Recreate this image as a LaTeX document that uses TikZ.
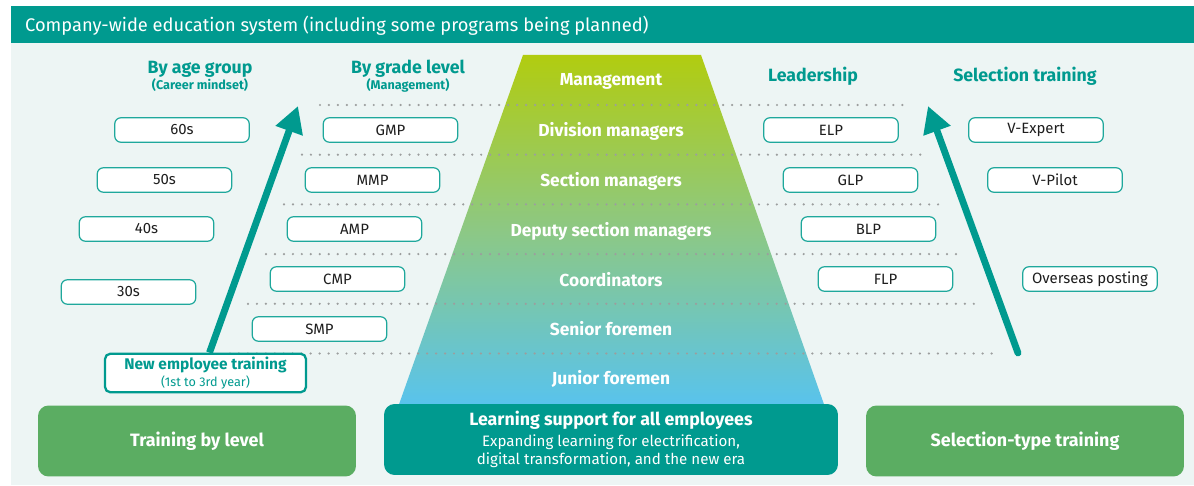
\documentclass[tikz,border=0pt]{standalone}
\usepackage{fontspec}
\setmainfont{Fira Sans}
\usetikzlibrary{arrows.meta}
\definecolor{teal1}{HTML}{009A8F}
\definecolor{tealline}{HTML}{1FA89C}
\definecolor{lightbg}{HTML}{EDF5F4}
\definecolor{greenbox}{HTML}{5BAD62}
\definecolor{dotgray}{HTML}{9C9E9E}
\definecolor{pyrtop}{HTML}{B1CC10}
\definecolor{pyrmid}{HTML}{8CC886}
\definecolor{pyrbot}{HTML}{57C3F0}
\definecolor{boxtext}{HTML}{1E1E1E}
\tikzset{
	prog/.style={draw=tealline, line width=0.7pt, fill=white, rounded corners=3.5pt,
		minimum width=2.69cm, minimum height=0.49cm, inner sep=0pt,
		text=boxtext, font=\fontsize{8.5}{10}\selectfont},
	level/.style={text=white, font=\fontsize{9.9}{11}\selectfont\bfseries},
	head/.style={text=teal1, font=\fontsize{10.1}{11}\selectfont\bfseries, align=center},
	base/.style={rounded corners=6pt, minimum width=6.36cm, minimum height=1.42cm,
		text=white, align=center, inner sep=0pt},
	dots/.style={dotgray, line width=1.4pt, line cap=round, dash pattern=on 0pt off 5.1pt},
	bigarrow/.style={teal1, line width=3.9pt, -{Triangle[length=15pt, width=15.5pt]}}
}
\begin{document}
\begin{tikzpicture}[x=0.02cm, y=-0.02cm]
	\useasboundingbox (0,0) rectangle (1194,486);
	% background and title band
	\fill[lightbg] (11,43) rectangle (1194,485);
	\fill[teal1] (11,6) rectangle (1194,43);
	\node[anchor=west, text=white, font=\fontsize{10.4}{12}\selectfont] (title) at (19,25.5)
		{Company-wide education system (including some programs being planned)};

	% pyramid
	\shade[top color=pyrtop, bottom color=pyrbot, middle color=pyrmid]
		(523,55) -- (701,55) -- (826,410) -- (397,410) -- cycle;
	\foreach \i in {0,...,5}
		\draw[dots] ({320-18*\i},{105+49.7*\i}) -- ({907+18*\i},{105+49.7*\i});

	\node[level] (mgmt) at (611,81) {Management};
	\node[level] (divm) at (611,131) {Division managers};
	\node[level] (secm) at (611,181) {Section managers};
	\node[level] (depm) at (611,231) {Deputy section managers};
	\node[level] (coord) at (611,280) {Coordinators};
	\node[level] (senf) at (611,329) {Senior foremen};
	\node[level] (junf) at (611,379) {Junior foremen};

	% column heads
	\node[head] (agehead) at (200,76) {By age group\\[-2pt]
		{\fontsize{7.2}{8}\selectfont (Career mindset)}};
	\node[head] (gradehead) at (408,76) {By grade level\\[-2pt]
		{\fontsize{7.2}{8}\selectfont (Management)}};
	\node[head] (leadhead) at (813,76) {Leadership};
	\node[head] (selhead) at (1025,76) {Selection training};

	% by age group
	\node[prog] (age60) at (182,130) {60s};
	\node[prog] (age50) at (164.5,180) {50s};
	\node[prog] (age40) at (146.5,229) {40s};
	\node[prog] (age30) at (128.5,292) {30s};

	% by grade level
	\node[prog] (gmp) at (390.5,130) {GMP};
	\node[prog] (mmp) at (372.5,180) {MMP};
	\node[prog] (amp) at (354.5,229) {AMP};
	\node[prog] (cmp) at (337.5,279) {CMP};
	\node[prog] (smp) at (319.5,329) {SMP};

	% leadership
	\node[prog] (elp) at (831,130) {ELP};
	\node[prog] (glp) at (850.5,180) {GLP};
	\node[prog] (blp) at (868.5,229) {BLP};
	\node[prog] (flp) at (885.5,279) {FLP};

	% selection training
	\node[prog] (vexp) at (1036,130) {V-Expert};
	\node[prog] (vpil) at (1055,180) {V-Pilot};
	\node[prog] (overseas) at (1090,279) {Overseas posting};

	% new employees and arrows
	\node[draw=teal1, line width=1.3pt, fill=white, rounded corners=3pt,
		minimum width=4.02cm, minimum height=0.77cm, inner sep=0pt, align=center,
		text=teal1] (newemp) at (205.5,373)
		{{\fontsize{8.8}{10}\selectfont\bfseries New employee training}\\[-2.5pt]
		{\fontsize{7.2}{8}\selectfont (1st to 3rd year)}};
	\coordinate (tipL) at (298,106);
	\coordinate (tailR) at (1018,353);
	\coordinate (tipR) at (928,106);
	\draw[bigarrow] ([xshift=0.08cm]newemp.north) -- (tipL);
	\draw[bigarrow, line cap=round] (tailR) -- (tipR);

	% bottom boxes
	\node[base, fill=greenbox, font=\fontsize{10.2}{11}\selectfont\bfseries] (bylevel) at (197,441)
		{Training by level};
	\node[base, fill=teal1, minimum width=9.08cm] (allemp) at (611,439.5)
		{{\fontsize{10.1}{11}\selectfont\bfseries Learning support for all employees}\\[0pt]
		{\fontsize{8.6}{9.5}\selectfont Expanding learning for electrification,}\\[-1.5pt]
		{\fontsize{8.6}{9.5}\selectfont digital transformation, and the new era}};
	\node[base, fill=greenbox, font=\fontsize{10.2}{11}\selectfont\bfseries] (seltype) at (1025,441)
		{Selection-type training};
\end{tikzpicture}
\end{document}
